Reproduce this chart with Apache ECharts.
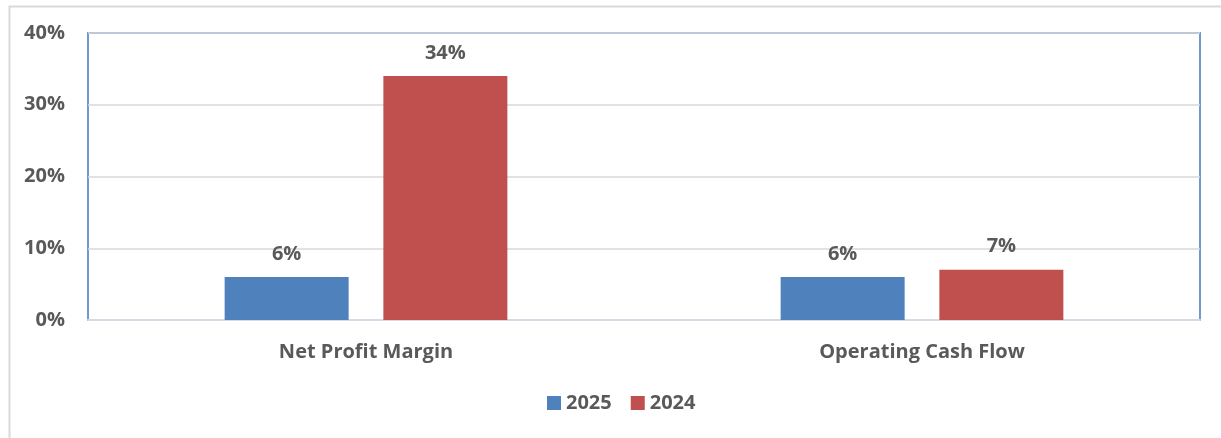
<!DOCTYPE html>
<html>
<head>
<meta charset="utf-8">
<script src="https://cdn.jsdelivr.net/npm/echarts@6/dist/echarts.min.js"></script>
<style>
  html, body { margin: 0; padding: 0; background: #fff; }
  #chart { width: 1221px; height: 438px; }
</style>
</head>
<body>
<div id="chart"></div>
<script>
// Metrics shown on the category axis
const categories = ['Net Profit Margin', 'Operating Cash Flow'];
// Percentages per year
const values2025 = [6, 6];
const values2024 = [34, 7];
// Value axis ticks (percent)
const yTicks = [0, 10, 20, 30, 40];

const textColor = '#595959';
const fontFamily = '"Open Sans", Lato, sans-serif';
const fontSize = 20;

const chart = echarts.init(document.getElementById('chart'), null, { renderer: 'canvas' });

const barLabel = {
  show: true,
  position: 'top',
  distance: 13,
  formatter: '{c}%',
  color: textColor,
  fontFamily: fontFamily,
  fontWeight: 'bold',
  fontSize: fontSize
};

chart.setOption({
  backgroundColor: '#ffffff',
  animation: false,
  graphic: [{
    type: 'rect',
    left: 7,
    top: 4,
    shape: { width: 1400, height: 600 },
    style: { fill: 'none', stroke: '#d9d9d9', lineWidth: 2 },
    z: -10,
    silent: true
  }],
  grid: {
    left: 88,
    right: 21,
    top: 33,
    bottom: 118,
    show: true,
    borderColor: '#7099cf',
    borderWidth: 2,
    backgroundColor: 'transparent'
  },
  legend: {
    data: ['2025', '2024'],
    bottom: 20,
    left: 542,
    itemWidth: 14,
    itemHeight: 14,
    itemGap: 19,
    icon: 'rect',
    textStyle: {
      color: textColor,
      fontFamily: fontFamily,
      fontWeight: 'bold',
      fontSize: fontSize
    }
  },
  xAxis: {
    type: 'category',
    data: categories,
    axisTick: { show: false },
    axisLine: { lineStyle: { color: '#d5dbe5', width: 2 } },
    axisLabel: {
      margin: 22,
      color: textColor,
      fontFamily: fontFamily,
      fontWeight: 'bold',
      fontSize: fontSize
    }
  },
  yAxis: {
    type: 'value',
    min: yTicks[0],
    max: yTicks[yTicks.length - 1],
    interval: 10,
    axisLine: { show: false },
    axisTick: { show: false },
    splitLine: { lineStyle: { color: '#d9d9d9', width: 1.5 } },
    axisLabel: {
      margin: 23,
      formatter: '{value}%',
      color: textColor,
      fontFamily: fontFamily,
      fontWeight: 'bold',
      fontSize: fontSize
    }
  },
  series: [
    {
      name: '2025',
      type: 'bar',
      data: values2025,
      barWidth: 124,
      barGap: '28%',
      itemStyle: { color: '#4f81bd' },
      label: barLabel
    },
    {
      name: '2024',
      type: 'bar',
      data: values2024,
      barWidth: 124,
      barGap: '28%',
      itemStyle: { color: '#c0504d' },
      label: barLabel
    }
  ]
});
</script>
</body>
</html>
